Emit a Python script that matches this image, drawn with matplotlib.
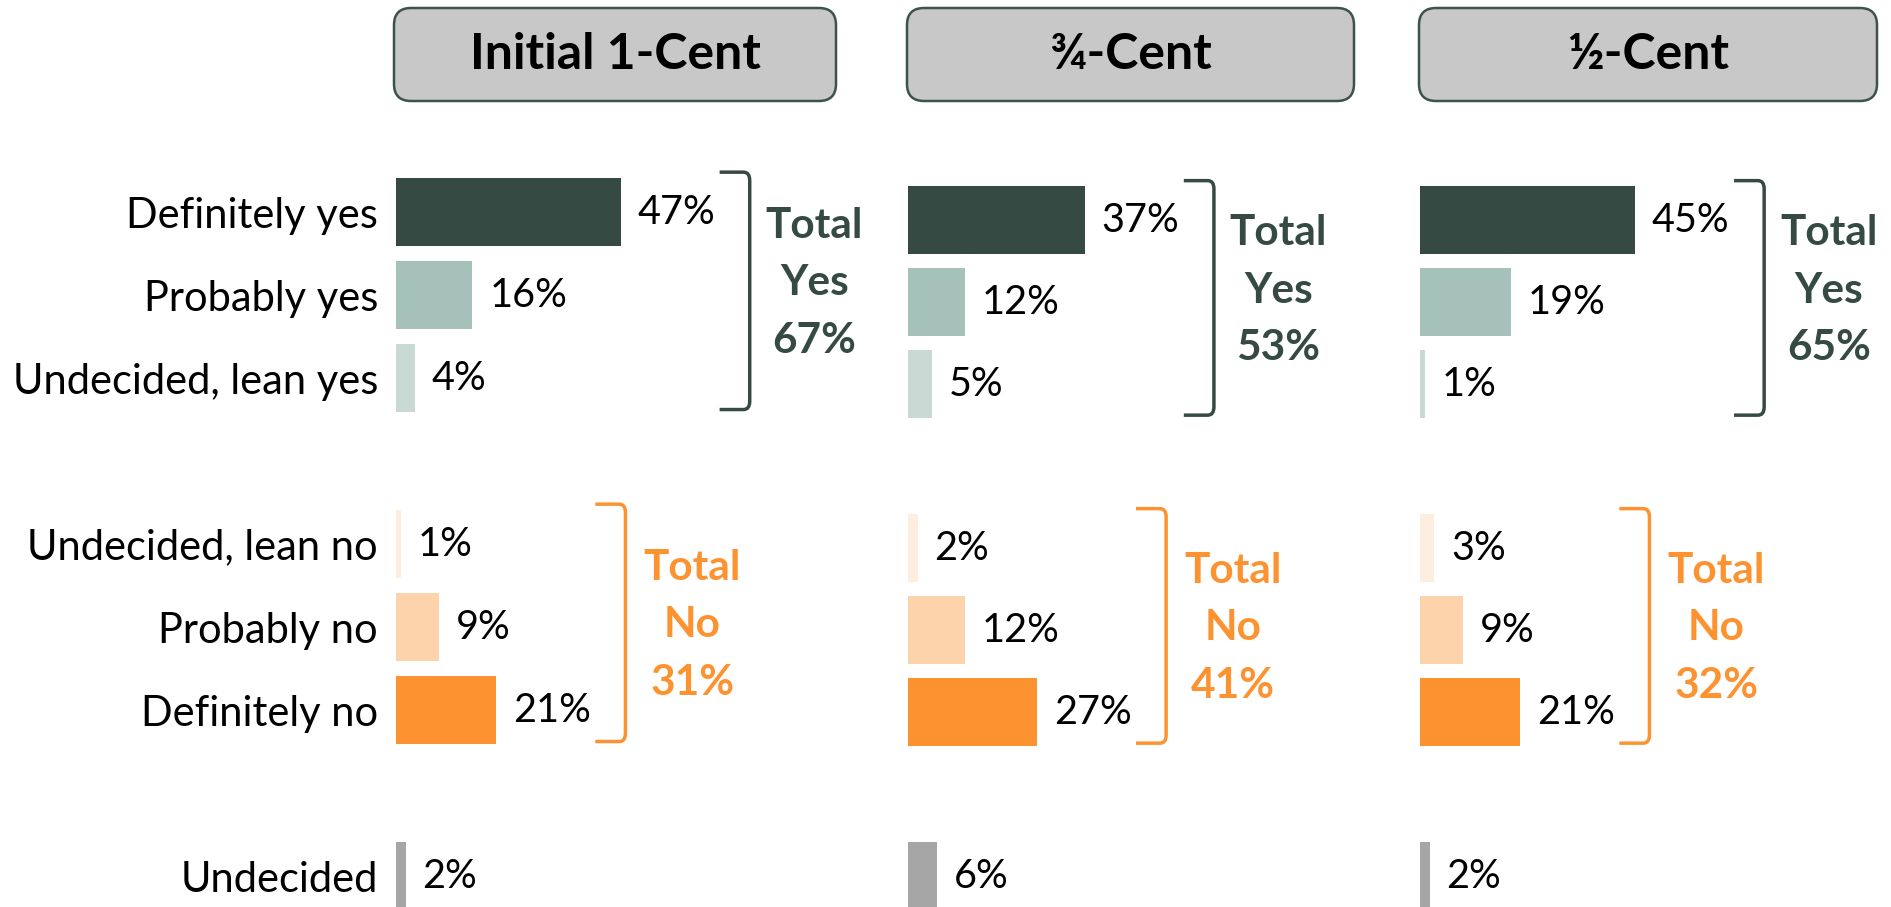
import matplotlib
matplotlib.use("Agg")
import matplotlib.pyplot as plt
from matplotlib.patches import FancyBboxPatch, PathPatch
from matplotlib.path import Path

plt.rcParams['font.family'] = ['Lato', 'DejaVu Sans']

# data
panels = ["Initial 1-Cent", "\u00be-Cent", "\u00bd-Cent"]
categories = ["Definitely yes", "Probably yes", "Undecided, lean yes",
              "Undecided, lean no", "Probably no", "Definitely no", "Undecided"]
definitely_yes = [47, 37, 45]
probably_yes = [16, 12, 19]
lean_yes = [4, 5, 1]
lean_no = [1, 2, 3]
probably_no = [9, 12, 9]
definitely_no = [21, 27, 21]
undecided = [2, 6, 2]
total_yes = [67, 53, 65]
total_no = [31, 41, 32]

rows = [0, 1, 2, 4, 5, 6, 8]
bar_colors = ["#364A44", "#A6C1B9", "#C9DAD5", "#FDEEDF", "#FDD3AC", "#FD9230", "#A6A6A6"]
yes_color = "#364A44"
no_color = "#FD9230"

W, H = 1891, 907
fig = plt.figure(figsize=(W / 100, H / 100), dpi=100)

# layout of each panel in pixels
bar_x0 = [396, 908, 1420]
row_y0 = [212, 220, 220]
pitch = [83, 82, 82]
px_per_pct = 4.78
box_x = [(394, 836), (907, 1354), (1419, 1877)]
box_y = (8, 101)


def draw_bracket(ax, x, y_top, y_bot, color):
    dx, rx, ry = 6.3, 1.3, 0.1
    verts = [(x - dx, y_top), (x - rx, y_top), (x, y_top), (x, y_top + ry),
             (x, y_bot - ry), (x, y_bot), (x - rx, y_bot), (x - dx, y_bot)]
    codes = [Path.MOVETO, Path.LINETO, Path.CURVE3, Path.CURVE3,
             Path.LINETO, Path.CURVE3, Path.CURVE3, Path.LINETO]
    ax.add_patch(PathPatch(Path(verts, codes), fill=False, edgecolor=color,
                           linewidth=2.5, capstyle='butt'))


for i, name in enumerate(panels):
    x0 = bar_x0[i]
    width_px = 470
    ax = fig.add_axes([x0 / W, 0, width_px / W, 1])
    ax.set_xlim(0, width_px / px_per_pct)
    top = -row_y0[i] / pitch[i]
    bot = (H - row_y0[i]) / pitch[i]
    ax.set_ylim(bot, top)
    if i > 0:
        ax.axis('off')

    vals = [definitely_yes[i], probably_yes[i], lean_yes[i],
            lean_no[i], probably_no[i], definitely_no[i], undecided[i]]
    ax.barh(rows, vals, height=0.82, color=bar_colors)
    for r, v in zip(rows, vals):
        ax.text(v + 3.5, r, f"{v}%", va='center', ha='left', fontsize=28.5, color='black')

    if i == 0:
        for s in ax.spines.values():
            s.set_visible(False)
        ax.set_xticks([])
        ax.set_yticks(rows)
        ax.set_yticklabels(categories, fontsize=30)
        ax.tick_params(axis='y', length=0, pad=13)

    # brackets and totals
    yes_vals = vals[:3]
    no_vals = vals[3:6]
    bx = max(yes_vals) + 27
    draw_bracket(ax, bx, rows[0] - 0.48, rows[2] + 0.38, yes_color)
    ax.text(bx + 13.5, 0.86, f"Total\nYes\n{total_yes[i]}%", ha='center', va='center',
            fontsize=30.5, fontweight='bold', color=yes_color, linespacing=1.62)
    bx = max(no_vals) + 27
    draw_bracket(ax, bx, rows[3] - 0.48, rows[5] + 0.38, no_color)
    ax.text(bx + 14, 4.98, f"Total\nNo\n{total_no[i]}%", ha='center', va='center',
            fontsize=30.5, fontweight='bold', color=no_color, linespacing=1.62)

    # header box
    bx0, bx1 = box_x[i]
    box = FancyBboxPatch((bx0 / W, 1 - box_y[1] / H), (bx1 - bx0) / W, (box_y[1] - box_y[0]) / H,
                         boxstyle="round,pad=0,rounding_size=0.009",
                         transform=fig.transFigure, facecolor="#C8C8C8",
                         edgecolor="#3B524D", linewidth=1.8, mutation_aspect=W / H)
    fig.add_artist(box)
    fig.text((bx0 + bx1) / 2 / W, 1 - (box_y[0] + box_y[1]) / 2 / H, name,
             ha='center', va='center', fontsize=36, fontweight='bold', color='black')

fig.savefig("out.png", dpi=100, facecolor='white')
